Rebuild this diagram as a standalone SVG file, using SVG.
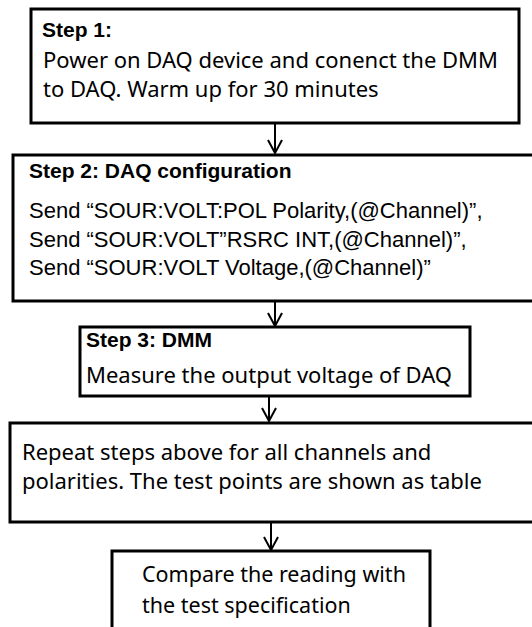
<svg xmlns="http://www.w3.org/2000/svg" width="532" height="627" viewBox="0 0 532 627">
<style>
.box{fill:#fff;stroke:#000;stroke-width:3}
.h{font-family:"Liberation Sans",Arial,sans-serif;font-weight:bold;font-size:21px;fill:#000}
.a{font-family:"Liberation Sans",Arial,sans-serif;font-size:22px;fill:#000}
.p{font-family:"Noto Sans",sans-serif;font-size:22px;fill:#000}
.q{font-family:"Noto Sans",sans-serif;font-size:21.5px;fill:#000}
.c{stroke:#000;stroke-width:2;fill:none}
</style>
<defs>
<marker id="v" markerUnits="userSpaceOnUse" viewBox="-14 -8 16 16" refX="0" refY="0" markerWidth="16" markerHeight="16" orient="auto">
<path d="M-13,-7 L0,0 L-13,7" fill="none" stroke="#000" stroke-width="2"/>
</marker>
</defs>
<rect width="532" height="627" fill="#fff"/>
<g id="connectors">
<line class="c" x1="275" y1="123" x2="275" y2="153" marker-end="url(#v)"/>
<line class="c" x1="275" y1="301" x2="275" y2="326" marker-end="url(#v)"/>
<line class="c" x1="269" y1="396" x2="269" y2="421" marker-end="url(#v)"/>
<line class="c" x1="271" y1="522" x2="271" y2="550" marker-end="url(#v)"/>
</g>
<g id="step1">
<rect class="box" x="31" y="9" width="488" height="114"/>
<text class="h" x="42" y="37">Step 1:</text>
<text class="p" x="43" y="68">Power on DAQ device and conenct the DMM</text>
<text class="p" x="43" y="97">to DAQ. Warm up for 30 minutes</text>
</g>
<g id="step2">
<rect class="box" x="13" y="155" width="540" height="146"/>
<text class="h" x="29" y="178">Step 2: DAQ configuration</text>
<text class="a" x="29" y="218">Send “SOUR:VOLT:POL Polarity,(@Channel)”,</text>
<text class="a" x="29" y="247">Send “SOUR:VOLT”RSRC INT,(@Channel)”,</text>
<text class="a" x="29" y="275">Send “SOUR:VOLT Voltage,(@Channel)”</text>
</g>
<g id="step3">
<rect class="box" x="80" y="327" width="390" height="69"/>
<text class="h" x="86" y="347">Step 3: DMM</text>
<text class="p" x="86" y="383">Measure the output voltage of DAQ</text>
</g>
<g id="repeat">
<rect class="box" x="10" y="423" width="540" height="99"/>
<text class="p" x="22" y="460">Repeat steps above for all channels and</text>
<text class="p" x="22" y="489">polarities. The test points are shown as table</text>
</g>
<g id="compare">
<rect class="box" x="112" y="551" width="318" height="90"/>
<text class="q" x="142" y="582">Compare the reading with</text>
<text class="q" x="142" y="613">the test specification</text>
</g>
</svg>
